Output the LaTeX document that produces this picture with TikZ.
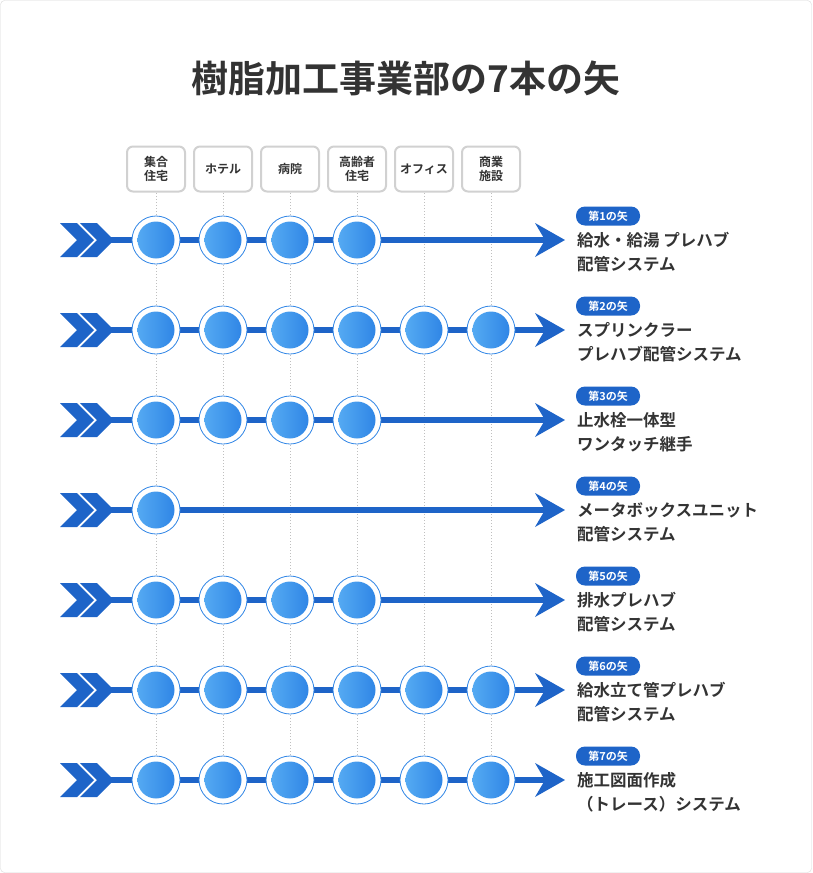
\documentclass[tikz,border=0pt]{standalone}
\usepackage{fontspec}
\setmainfont{Noto Sans CJK JP}[BoldFont={* Bold}]
\usetikzlibrary{arrows.meta}
\definecolor{mainblue}{HTML}{1E64C8}
\definecolor{lightb}{HTML}{55AAF2}
\definecolor{darkb}{HTML}{2F85E6}
\definecolor{txt}{HTML}{333333}
\tikzset{
 cat/.style={draw=black!18,line width=2pt,rounded corners=6pt,fill=white,minimum width=58pt,minimum height=45pt,align=center,font=\bfseries\fontsize{12}{14}\selectfont,text=txt},
 ring/.style={circle,draw=darkb,line width=0.8pt,fill=white,minimum size=48pt,inner sep=0pt},
 dot/.style={circle,left color=lightb,right color=darkb,minimum size=37pt,inner sep=0pt},
 badge/.style={fill=mainblue,rounded corners=9pt,text=white,font=\bfseries\fontsize{11}{12}\selectfont,minimum width=64pt,minimum height=19pt,inner sep=0pt},
 lbl/.style={anchor=north west,align=left,text=txt,font=\bfseries\fontsize{16.5}{24}\selectfont,inner sep=0pt},
 mline/.style={draw=mainblue,line width=6pt},
 chev/.style={fill=mainblue}
}
\begin{document}
\begin{tikzpicture}[x=1pt,y=-1pt]
\useasboundingbox (0,0) rectangle (812,873);
\draw[black!15,fill=white,rounded corners=4pt] (0.5,0.5) rectangle (811.5,872.5);
\node[font=\bfseries\fontsize{37}{40}\selectfont,text=txt] (title) at (406,78) {樹脂加工事業部の7本の矢};
\foreach \i/\t in {1/{集合\\住宅},2/{ホテル},3/{病院},4/{高齢者\\住宅},5/{オフィス},6/{商業\\施設}}{
  \pgfmathsetmacro\cx{156+67*(\i-1)}
  \coordinate (top\i) at (\cx,193);
  \coordinate (bot\i) at (\cx,790);
  \draw[black!25,dotted,line width=1pt] (top\i) -- (bot\i);
  \node[cat] (c\i) at (\cx,169) {\t};
}
\foreach \r/\n/\la/\lb in {1/4/{給水・給湯 プレハブ}/{配管システム},2/6/{スプリンクラー}/{プレハブ配管システム},3/4/{止水栓一体型}/{ワンタッチ継手},4/1/{メータボックスユニット}/{配管システム},5/4/{排水プレハブ}/{配管システム},6/6/{給水立て管プレハブ}/{配管システム},7/6/{施工図面作成}/{（トレース）システム}}{
  \pgfmathsetmacro\cy{240+90*(\r-1)}
  \coordinate (s\r) at (100,\cy);
  \coordinate (e\r) at (545,\cy);
  \draw[mline] (s\r) -- (e\r);
  \fill[mainblue] (535,\cy-17) -- (565,\cy) -- (535,\cy+17) -- (545,\cy) -- cycle;
  \fill[chev] (60,\cy-17) -- (77,\cy-17) -- (94,\cy) -- (77,\cy+17) -- (60,\cy+17) -- (77,\cy) -- cycle;
  \fill[chev] (80,\cy-17) -- (97,\cy-17) -- (114,\cy) -- (97,\cy+17) -- (80,\cy+17) -- (97,\cy) -- cycle;
  \foreach \j in {1,...,\n}{
    \pgfmathsetmacro\cx{156+67*(\j-1)}
    \node[ring] (o\r-\j) at (\cx,\cy) {};
    \node[dot] (d\r-\j) at (\cx,\cy) {};
  }
  \node[badge] (b\r) at (608,\cy-24) {第\r の矢};
  \node[lbl] (l\r) at (577,\cy-8) {\la\\\lb};
}
\end{tikzpicture}
\end{document}
